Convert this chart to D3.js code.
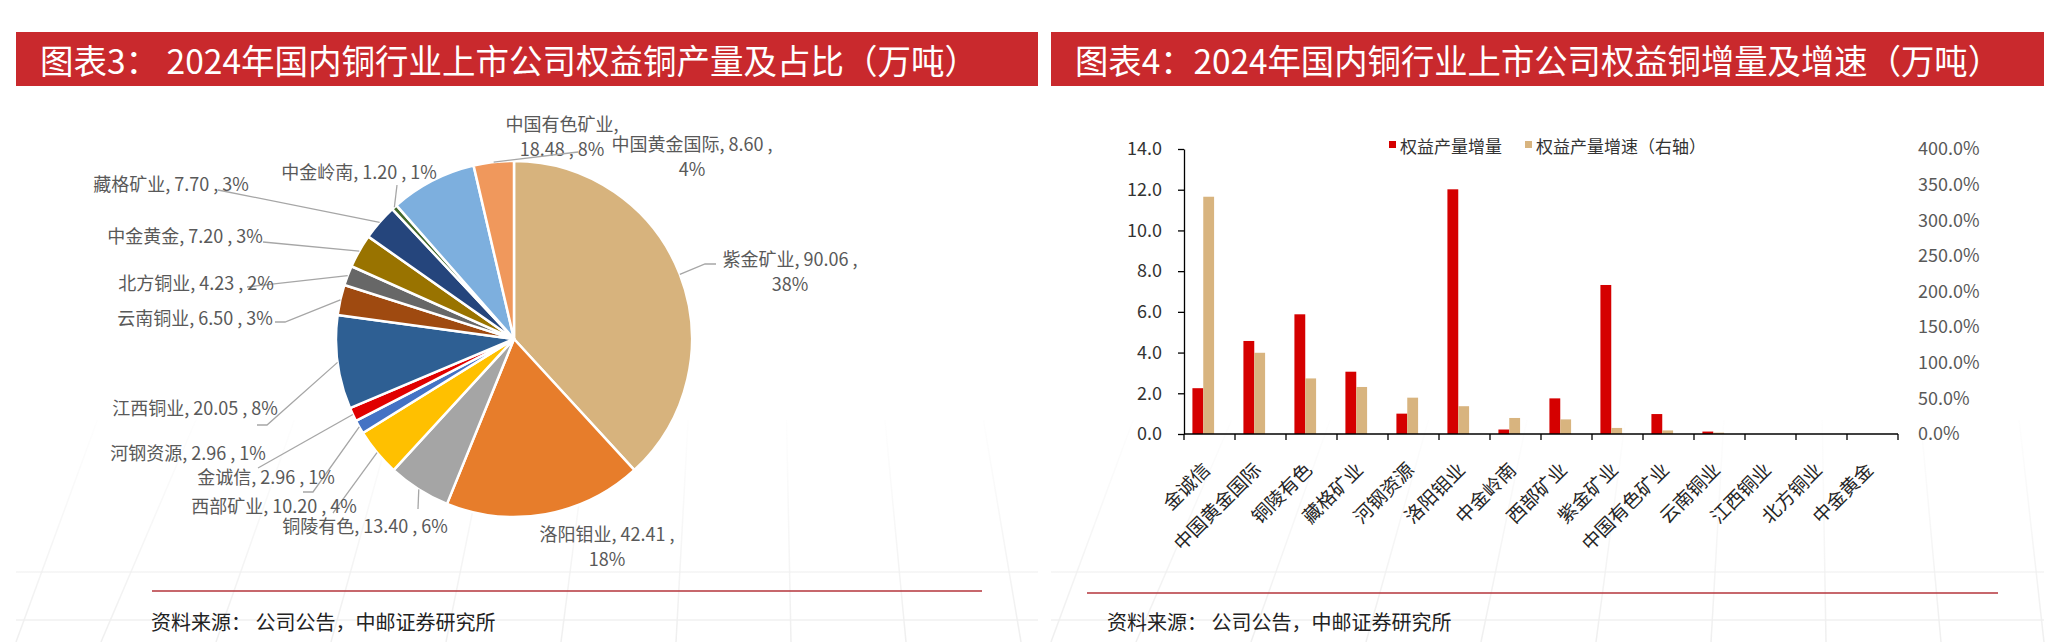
<!DOCTYPE html>
<html>
<head>
<meta charset="utf-8">
<script src="https://cdn.jsdelivr.net/npm/d3@7"></script>
<style>
  body { margin: 0; background: #fff; }
  svg { display: block; font-family: "Noto Sans CJK SC", "Noto Sans", sans-serif; }
</style>
</head>
<body>
<svg id="chart" width="2048" height="642"></svg>
<script>
// ---- data: pie (图表3) ----
const pieNames = ["紫金矿业", "洛阳钼业", "铜陵有色", "西部矿业", "金诚信", "河钢资源", "江西铜业",
  "云南铜业", "北方铜业", "中金黄金", "藏格矿业", "中金岭南", "中国有色矿业", "中国黄金国际"];
const pieValues = [90.06, 42.41, 13.40, 10.20, 2.96, 2.96, 20.05, 6.50, 4.23, 7.20, 7.70, 1.20, 18.48, 8.60];

// ---- data: bars (图表4) ----
const barCategories = ["金诚信", "中国黄金国际", "铜陵有色", "藏格矿业", "河钢资源", "洛阳钼业", "中金岭南",
  "西部矿业", "紫金矿业", "中国有色矿业", "云南铜业", "江西铜业", "北方铜业", "中金黄金"];
const increments = [2.25, 4.57, 5.88, 3.06, 1.00, 12.02, 0.22, 1.75, 7.32, 0.98, 0.12, 0, 0, 0];
const growthRates = [3.33, 1.14, 0.78, 0.66, 0.51, 0.39, 0.225, 0.205, 0.085, 0.05, 0.019, 0, 0, 0];
const leftTicks = [0, 2, 4, 6, 8, 10, 12, 14];
const rightTicks = [0, 0.5, 1, 1.5, 2, 2.5, 3, 3.5, 4];
const seriesNames = ["权益产量增量", "权益产量增速（右轴）"];

const svg = d3.select("#chart");

// faint perspective grid in the page background
const defs = svg.append("defs");
const fade = defs.append("linearGradient").attr("id", "fade")
  .attr("gradientUnits", "userSpaceOnUse").attr("x1", 0).attr("x2", 0).attr("y1", 400).attr("y2", 642);
fade.append("stop").attr("offset", 0).attr("stop-color", "#efefef").attr("stop-opacity", 0);
fade.append("stop").attr("offset", 1).attr("stop-color", "#efefef").attr("stop-opacity", 1);
const bg = svg.append("g").attr("stroke", "url(#fade)").attr("stroke-width", 1.5).attr("fill", "none");
[[16, 1038, 760], [1051, 2044, 1800]].forEach(([xa, xb, vx]) => {
  [572, 620].forEach(y => bg.append("line").attr("x1", xa).attr("x2", xb).attr("y1", y).attr("y2", y));
  d3.range(xa - 260, xb + 200, 115).forEach(bx => {
    const t = (642 - 420) / (642 + 900);
    const ex = bx + (vx - bx) * t;
    if (ex < xa || ex > xb) return;
    bg.append("line").attr("x1", Math.max(xa, Math.min(xb, bx))).attr("y1", 642)
      .attr("x2", ex).attr("y2", 420);
  });
});

// title bands
function titleBand(x, w, text, textX, textLen) {
  svg.append("rect").attr("x", x).attr("y", 32).attr("width", w).attr("height", 54).attr("fill", "#c9292d");
  svg.append("text").attr("x", textX).attr("y", 59).attr("dominant-baseline", "central")
    .attr("fill", "#fff").attr("font-size", 34).attr("textLength", textLen).attr("lengthAdjust", "spacingAndGlyphs")
    .text(text);
}
titleBand(16, 1022, "图表3： 2024年国内铜行业上市公司权益铜产量及占比（万吨）", 40, 938);
titleBand(1051, 993, "图表4：2024年国内铜行业上市公司权益铜增量及增速（万吨）", 1075, 926);

// footers
function footer(x1, x2, y, tx) {
  svg.append("line").attr("x1", x1).attr("x2", x2).attr("y1", y).attr("y2", y)
    .attr("stroke", "#b5343b").attr("stroke-width", 1.5);
  svg.append("text").attr("x", tx).attr("y", 621).attr("dominant-baseline", "central")
    .attr("font-size", 20).attr("fill", "#222").text("资料来源：  公司公告，中邮证券研究所");
}
footer(152, 982, 591, 151);
footer(1087, 1998, 593, 1107);

// ---- pie ----
const cx = 514, cy = 339, R = 178;
const pieColors = d3.scaleOrdinal().domain(pieNames).range([
  "#d7b37d", "#e77d2b", "#a5a5a5", "#ffc000", "#4472c4", "#e00000", "#2e5f93",
  "#9f4a10", "#676767", "#997300", "#25457c", "#43682b", "#7dafde", "#f0985c"]);
const total = d3.sum(pieValues);
const pct = d3.format(".0%");

const pieData = d3.pie().sort(null).value(d => d.value)(pieNames.map((n, i) => ({ name: n, value: pieValues[i] })));
const arc = d3.arc().innerRadius(0).outerRadius(R);

const gPie = svg.append("g").attr("transform", `translate(${cx},${cy})`);
gPie.selectAll("path.slice").data(pieData).join("path")
  .attr("class", "slice")
  .attr("d", arc)
  .attr("fill", d => pieColors(d.data.name))
  .attr("stroke", "#fff").attr("stroke-width", 2.5).attr("stroke-linejoin", "round");

// label layout (relative to pie centre): text centre, line groups, leader bend points
const pieLabelLayout = {
  "紫金矿业":   { dx: 276, dy: -81, lines: [[0, 1], [2]], leader: [[191, -75], [202, -75]] },
  "洛阳钼业":   { dx: 93, dy: 194, lines: [[0, 1], [2]], leader: [] },
  "铜陵有色":   { dx: -149, dy: 186, lines: [[0, 1, 2]], leader: [[-96, 170]] },
  "西部矿业":   { dx: -240, dy: 166, lines: [[0, 1, 2]], leader: [[-181, 174]] },
  "金诚信":     { dx: -248, dy: 137, lines: [[0, 1, 2]], leader: [[-201, 153], [-211, 153]] },
  "河钢资源":   { dx: -326, dy: 113, lines: [[0, 1, 2]], leader: [[-256, 129]] },
  "江西铜业":   { dx: -319, dy: 68, lines: [[0, 1, 2]], leader: [[-247, 86], [-257, 86]] },
  "云南铜业":   { dx: -319, dy: -22, lines: [[0, 1, 2]], leader: [[-229, -17], [-239, -17]] },
  "北方铜业":   { dx: -318, dy: -57, lines: [[0, 1, 2]], leader: [[-267, -52]] },
  "中金黄金":   { dx: -329, dy: -104, lines: [[0, 1, 2]], leader: [[-251, -97]] },
  "藏格矿业":   { dx: -343, dy: -156, lines: [[0, 1, 2]], leader: [[-296, -149]] },
  "中金岭南":   { dx: -155, dy: -168, lines: [[0, 1, 2]], leader: [[-117, -154]] },
  "中国有色矿业": { dx: 48, dy: -216, lines: [[0], [1, 2]], leader: [] },
  "中国黄金国际": { dx: 178, dy: -196, lines: [[0, 1], [2]], leader: [[64, -187]] }
};

pieData.forEach(d => {
  const lay = pieLabelLayout[d.data.name];
  const mid = (d.startAngle + d.endAngle) / 2;
  const start = [R * Math.sin(mid), -R * Math.cos(mid)];
  if (lay.leader.length) {
    gPie.append("path")
      .attr("d", d3.line()([start, ...lay.leader]))
      .attr("fill", "none").attr("stroke", "#a6a6a6").attr("stroke-width", 1.3);
  }
  const parts = [d.data.name + ",", d.data.value.toFixed(2) + " ,", pct(d.data.value / total)];
  const t = gPie.append("text")
    .attr("font-size", 18).attr("fill", "#595959").attr("text-anchor", "middle");
  lay.lines.forEach((idx, li) => {
    t.append("tspan").attr("x", lay.dx).attr("y", lay.dy + li * 25)
      .attr("dominant-baseline", "central")
      .text(idx.map(k => parts[k]).join(" "));
  });
});

// ---- bar chart ----
const plotTop = 149, plotBottom = 434;
const x0 = d3.scaleBand().domain(barCategories).range([1184, 1898]);
const bw = x0.bandwidth();
const x1 = d3.scaleBand().domain(["inc", "rate"]).range([bw * 0.165, bw * 0.59]);
const yL = d3.scaleLinear().domain([0, 14]).range([plotBottom, plotTop]);
const yR = d3.scaleLinear().domain([0, 4]).range([plotBottom, plotTop]);

const gBar = svg.append("g");
gBar.selectAll("rect.inc").data(barCategories).join("rect")
  .attr("class", "inc")
  .attr("x", (c) => x0(c) + x1("inc"))
  .attr("width", x1.bandwidth())
  .attr("y", (c, i) => yL(increments[i]))
  .attr("height", (c, i) => plotBottom - yL(increments[i]))
  .attr("fill", "#d50000");
gBar.selectAll("rect.rate").data(barCategories).join("rect")
  .attr("class", "rate")
  .attr("x", (c) => x0(c) + x1("rate"))
  .attr("width", x1.bandwidth())
  .attr("y", (c, i) => yR(growthRates[i]))
  .attr("height", (c, i) => plotBottom - yR(growthRates[i]))
  .attr("fill", "#d8b47f");

// left axis
const axL = svg.append("g").attr("transform", "translate(1184,0)")
  .call(d3.axisLeft(yL).tickValues(leftTicks).tickFormat(d3.format(".1f")).tickSize(6).tickSizeOuter(0).tickPadding(16));
axL.select(".domain").attr("stroke", "#000").attr("stroke-width", 1.3);
axL.selectAll(".tick line").attr("stroke", "#000").attr("stroke-width", 1.3);
axL.selectAll(".tick text").attr("font-size", 18).attr("fill", "#333").attr("font-family", "'Noto Sans CJK SC'");

// right axis (labels only)
const axR = svg.append("g").attr("transform", "translate(1918,0)")
  .call(d3.axisRight(yR).tickValues(rightTicks).tickFormat(d3.format(".1%")).tickSize(0).tickPadding(0));
axR.select(".domain").remove();
axR.selectAll(".tick text").attr("font-size", 18).attr("fill", "#595959").attr("font-family", "'Noto Sans CJK SC'");

// bottom axis with ticks on band boundaries
const gX = svg.append("g");
gX.append("line").attr("x1", x0.range()[0]).attr("x2", x0.range()[1])
  .attr("y1", plotBottom).attr("y2", plotBottom).attr("stroke", "#000").attr("stroke-width", 1.3);
const boundaries = barCategories.map(c => x0(c)).concat([x0.range()[1]]);
gX.selectAll("line.tk").data(boundaries).join("line")
  .attr("class", "tk")
  .attr("x1", d => d).attr("x2", d => d)
  .attr("y1", plotBottom).attr("y2", plotBottom + 6)
  .attr("stroke", "#000").attr("stroke-width", 1.3);
gX.selectAll("text.cat").data(barCategories).join("text")
  .attr("class", "cat")
  .attr("transform", c => `translate(${x0(c) + bw / 2 - 4},${plotBottom + 31}) rotate(-45)`)
  .attr("text-anchor", "end").attr("dominant-baseline", "central")
  .attr("font-size", 19).attr("fill", "#262626")
  .text(c => c);

// legend
const legendColors = ["#d50000", "#d8b47f"];
const legendX = [1389, 1525];
seriesNames.forEach((s, i) => {
  svg.append("rect").attr("x", legendX[i]).attr("y", 141).attr("width", 7).attr("height", 7).attr("fill", legendColors[i]);
  svg.append("text").attr("x", legendX[i] + 11).attr("y", 145).attr("dominant-baseline", "central")
    .attr("font-size", 17).attr("fill", "#333").text(s);
});
</script>
</body>
</html>
